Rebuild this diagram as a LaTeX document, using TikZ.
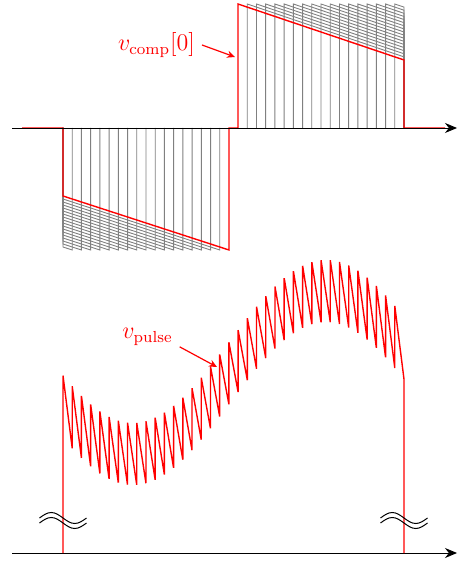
\documentclass[tikz,border=0pt]{standalone}
\usetikzlibrary{arrows.meta}

\begin{document}
\begin{tikzpicture}[x=0.5pt, y=-0.5pt,
    axis/.style={-{Stealth[length=6pt,width=5pt]}, line width=0.45pt},
    sig/.style={red, line width=0.7pt},
    ghost/.style={gray, line width=0.45pt},
    lbl/.style={red, font=\fontsize{11.8}{13}\selectfont},
    pointer/.style={-{Stealth[length=4pt,width=3.6pt]}, red, semithick},
    brk/.style={black, line width=0.5pt},
    declare function={env(\x)=403.5+81.5*cos(0.932642*(\x-133));}]

  \useasboundingbox (0,0) rectangle (459,565);

  %% ── Top: compensation pulses ─────────────────────────────
  \coordinate (axTopS) at (12,128);
  \coordinate (axTopE) at (457,128);

  % shifted copies, positive half
  \foreach \k in {1,...,17}{
    \draw[ghost] ({238+\k*166/18},128) -- ({238+\k*166/18},4)
      -- (404,{60-\k*56/18}) -- (404,128);
  }
  % shifted copies, negative half
  \foreach \k in {1,...,17}{
    \draw[ghost] (63,128) -- (63,{196+\k*54/18})
      -- ({229-\k*166/18},250) -- ({229-\k*166/18},128);
  }

  \draw[sig] (22,128) -- (63,128) -- (63,196) -- (229,250) -- (229,128)
    -- (238,128) -- (238,4) -- (404,60) -- (404,128) -- (445,128);
  \draw[axis] (axTopS) -- (axTopE);

  \node[lbl] (lblComp) at (156.5,45) {$v_{\mathrm{comp}}[0]$};
  \coordinate (tipComp) at (235,57);
  \draw[pointer] (lblComp.east) -- (tipComp);

  %% ── Bottom: resulting pulse train ────────────────────────
  \coordinate (axBotS) at (12,553);
  \coordinate (axBotE) at (457,553);
  \draw[axis] (axBotS) -- (axBotE);

  \draw[sig] (63,553) -- (63,{env(63)-62})
    \foreach \k [evaluate=\k as \xk using 63+\k*341/37] in {1,...,36}{
      -- (\xk,{env(\xk)}) -- (\xk,{env(\xk)-62})
    } -- (404,{env(404)}) -- (404,553);

  \node[lbl] (lblPulse) at (147.5,337) {$v_{\mathrm{pulse}}$};
  \coordinate (tipPulse) at (217,367);
  \draw[pointer] (lblPulse.-17) -- (tipPulse);

  % axis breaks
  \foreach \bx in {63,404}{
    \foreach \by in {518,523}{
      \draw[brk] (\bx-23.5,\by) sin ++(11.75,-5.5) cos ++(11.75,5.5)
        sin ++(11.75,5.5) cos ++(11.75,-5.5);
    }
  }

\end{tikzpicture}
\end{document}
